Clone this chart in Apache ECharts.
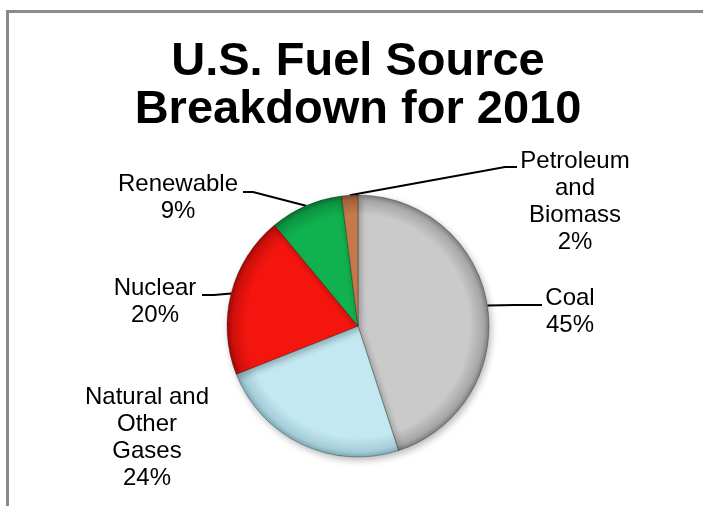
<!DOCTYPE html>
<html>
<head>
<meta charset="utf-8">
<script src="https://cdn.jsdelivr.net/npm/echarts@6/dist/echarts.min.js"></script>
<style>
  html, body { margin: 0; padding: 0; background: #ffffff; }
  #chart { width: 703px; height: 506px; }
</style>
</head>
<body>
<div id="chart"></div>
<script>
// Fuel sources and their share of the 2010 total (percent)
const sources = ['Coal', 'Natural and\nOther\nGases', 'Nuclear', 'Renewable', 'Petroleum\nand\nBiomass'];
const shares = [45, 24, 20, 9, 2];
const titleLines = ['U.S. Fuel Source', 'Breakdown for 2010'];

// Slice fill and darker rim shade, in the same order as sources
const sliceColors = ['#cacaca', '#c3e8f2', '#f5150f', '#10b14f', '#c57a4b'];
const rimColors = ['#7d7d7d', '#7fa9b6', '#9e0a06', '#08702f', '#80492a'];

const CX = 358, CY = 326, R = 131;
const FONT = '"Liberation Sans", Arial, sans-serif';

// Label block centres and the bends of their leader lines
const labelSpots = [
  { x: 570, y: 312, line: [[515, 305], [542, 305]] },
  { x: 147, y: 438, line: null },
  { x: 155, y: 302, line: [[214, 295], [202, 295]] },
  { x: 178, y: 198, line: [[253, 192], [243, 192]] },
  { x: 575, y: 202, line: [[505, 167], [517, 167]] }
];

function bevel(i) {
  return {
    type: 'radial', x: CX, y: CY, r: R, global: true,
    colorStops: [
      { offset: 0, color: sliceColors[i] },
      { offset: 0.85, color: sliceColors[i] },
      { offset: 0.96, color: echarts.color.lerp(0.45, [sliceColors[i], rimColors[i]]) },
      { offset: 1, color: rimColors[i] }
    ]
  };
}

const pieData = sources.map((name, i) => ({
  name: name,
  value: shares[i],
  itemStyle: { color: bevel(i) },
  labelLine: { show: labelSpots[i].line !== null }
}));

const chart = echarts.init(document.getElementById('chart'), null, { renderer: 'canvas' });

chart.setOption({
  animation: false,
  backgroundColor: '#ffffff',
  title: {
    text: titleLines.join('\n'),
    left: CX,
    top: 38,
    padding: 0,
    textAlign: 'center',
    textStyle: {
      fontFamily: FONT,
      fontSize: 47,
      fontWeight: 'bold',
      lineHeight: 48,
      color: '#000000'
    }
  },
  graphic: [{
    type: 'rect',
    shape: { x: 7.5, y: 11.5, width: 760, height: 560 },
    style: { fill: 'none', stroke: '#8a8a8a', lineWidth: 3 },
    silent: true,
    z: -1
  }],
  series: [{
    type: 'pie',
    center: [CX, CY],
    radius: [0, R],
    startAngle: 90,
    clockwise: true,
    avoidLabelOverlap: false,
    itemStyle: {
      borderColor: 'rgba(0,0,0,0.28)',
      borderWidth: 1,
      shadowBlur: 7,
      shadowColor: 'rgba(0,0,0,0.28)',
      shadowOffsetX: 2,
      shadowOffsetY: 3
    },
    label: {
      show: true,
      position: 'outside',
      formatter: p => p.name + '\n' + p.value + '%',
      fontFamily: FONT,
      fontSize: 24,
      lineHeight: 27,
      color: '#000000',
      align: 'center'
    },
    labelLine: {
      show: true,
      length: 20,
      length2: 20,
      lineStyle: { color: '#000000', width: 2 }
    },
    emphasis: { disabled: true },
    labelLayout: function (params) {
      const spot = labelSpots[params.dataIndex];
      const out = { x: spot.x, y: spot.y, align: 'center', verticalAlign: 'middle' };
      if (spot.line && params.labelLinePoints) {
        out.labelLinePoints = [params.labelLinePoints[0]].concat(spot.line);
      }
      return out;
    },
    data: pieData
  }]
});
</script>
</body>
</html>
